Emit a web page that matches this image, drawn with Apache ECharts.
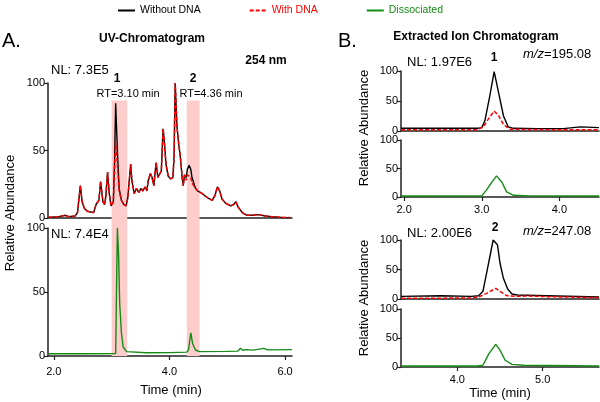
<!DOCTYPE html>
<html><head><meta charset="utf-8">
<script src="https://cdn.jsdelivr.net/npm/echarts@6/dist/echarts.min.js"></script>
<style>html,body{margin:0;padding:0;background:#fff}#c{width:600px;height:402px}</style>
</head><body><div id="c"></div>
<script>
const FONT = '"Liberation Sans", Arial, sans-serif';

// ---- Panel A: UV chromatogram (254 nm) ----
const uvTime = [1.91,2.09,2.20,2.26,2.37,2.41,2.46,2.49,2.53,2.58,2.69,2.73,2.75,2.78,2.81,2.85,2.88,2.90,2.93,2.96,2.99,3.03,3.05,3.07,3.10,3.13,3.17,3.21,3.25,3.28,3.30,3.33,3.35,3.39,3.43,3.47,3.51,3.54,3.58,3.61,3.63,3.67,3.70,3.73,3.77,3.80,3.83,3.86,3.89,3.91,3.94,3.98,4.02,4.06,4.08,4.10,4.13,4.16,4.19,4.22,4.24,4.26,4.29,4.31,4.34,4.37,4.39,4.42,4.45,4.49,4.57,4.66,4.74,4.79,4.83,4.87,4.91,4.97,5.06,5.11,5.15,5.19,5.26,5.34,5.43,5.54,5.66,5.77,5.94,6.09];
const uvWithout = [0.5,1,2,1,1.5,4,24,12,7,5,4,10,9,13,27,12,10,16,34,18,9,12,40,85,50,22,13,10,9,15,16,40,28,18,22,19,22,20,23,20,27,33,30,24,41,30,29,35,66,58,40,31,29,30,45,100,68,55,45,30,24,32,30,36,39,36,30,31,22,20,18,15,13,17,23,20,14,11,9,10,12,8,4,2,2,2.5,1.5,1,0.5,0.3];
const uvWith =    [0.5,1,2,1,1.5,4,24,12,7,5,4,10,9,13,27,12,10,16,34,18,9,12,35,56,40,20,13,10,9,15,16,40,28,18,22,19,22,20,23,20,27,33,30,24,41,30,29,35,66,58,40,31,29,30,45,100,68,55,45,30,24,32,28,32,33,30,26,27,22,20,18,15,13,17,23,20,14,11,9,10,12,8,4,2,2,2.5,1.5,1,0.5,0.3];
const uvDisTime = [1.91,2.50,3.07,3.10,3.12,3.14,3.17,3.20,3.26,3.60,4.00,4.30,4.33,4.37,4.40,4.45,4.52,5.00,5.18,5.23,5.27,5.34,5.45,5.63,5.70,6.12];
const uvDis =     [1.8,1.8,1.9,100,80,41,18,7,3.4,2.5,2.6,3,4.7,18,10,4.7,3.4,3.6,3.8,6,4.5,5,4.6,6,4.8,5];
const bandStart = [3.00, 4.30];
const bandEnd = [3.27, 4.52];
const bandTop = 87;       // in top-panel units
const bandBottom = -102;  // extends through lower panel
const aTicks = [2, 4, 6];

// ---- Panel B1: EIC m/z 195.08 ----
const e1BlackT = [1.96,2.46,2.96,3.00,3.04,3.10,3.16,3.21,3.28,3.34,3.41,3.71,4.05,4.27,4.51];
const e1Black =  [4.5,4.5,4.5,5.6,17,56,99,68,25,7,4.5,4,4,6.8,5.6];
const e1RedT =   [1.96,2.94,3.02,3.09,3.16,3.21,3.28,3.36,4.05,4.51];
const e1Red =    [2.2,2.2,6.8,21,33,27,11,3,2,2.3];
const e1GreenT = [1.96,3.00,3.06,3.13,3.19,3.26,3.32,3.41,3.62,4.51];
const e1Green =  [1.8,2,12,26,37,26,9,3,2,1.8];
const b1Ticks = [2, 3, 4];

// ---- Panel B2: EIC m/z 247.08 ----
const e2BlackT = [3.34,3.81,4.16,4.25,4.30,4.35,4.42,4.47,4.50,4.54,4.59,4.64,4.70,5.05,5.66];
const e2Black =  [4.5,5.6,4.5,5.6,13,49,100,92,61,35,17,8.4,6.7,5.6,3.4];
const e2RedT =   [3.34,4.16,4.25,4.35,4.45,4.50,4.58,4.70,4.85,5.05,5.66];
const e2Red =    [1.1,1.7,3.4,10,18,13,5.6,4.5,5,4,2.2];
const e2GreenT = [3.34,4.23,4.30,4.37,4.45,4.50,4.56,4.64,4.78,5.66];
const e2Green =  [1.7,1.7,3,23,39,29,11.6,4.6,3,1.7];
const b2Ticks = [4, 5];

const zip = (t, v) => t.map((x, i) => [x, v[i]]);
const AX = '#222';
const BLACK = '#000000', RED = '#ff0000', GREEN = '#148c14';

function xAx(grid, min, max, ticks, showLabels, margin) {
  return {
    type: 'value', gridIndex: grid, min: min, max: max,
    axisLine: { show: true, onZero: false, lineStyle: { color: AX, width: 1.5 } },
    splitLine: { show: false },
    axisTick: { show: showLabels, length: 4, customValues: ticks, lineStyle: { color: AX, width: 1.2 } },
    axisLabel: { show: showLabels, customValues: ticks, margin: margin, fontSize: 11, color: '#000', fontFamily: FONT,
      formatter: v => v.toFixed(1) }
  };
}
function yAx(grid) {
  return {
    type: 'value', gridIndex: grid, min: 0, max: 100, interval: 50,
    axisLine: { show: true, lineStyle: { color: AX, width: 1.5 } },
    splitLine: { show: false },
    axisTick: { show: true, length: 4, lineStyle: { color: AX, width: 1.2 } },
    axisLabel: { margin: 3, fontSize: 11, color: '#000', fontFamily: FONT }
  };
}
function line(name, xi, data, color, dashed) {
  return {
    name: name, type: 'line', xAxisIndex: xi, yAxisIndex: xi, data: data,
    symbol: 'none', smooth: false, silent: true, animation: false,
    lineStyle: { color: color, width: dashed ? 1.5 : 1.4, type: dashed ? [4, 2] : 'solid' },
    itemStyle: { color: color }, z: dashed ? 4 : 3
  };
}

const grids = [
  { left: 48, top: 83, width: 244, height: 273 },  // band
  { left: 48, top: 83, width: 244, height: 135 },  // A top
  { left: 48, top: 228, width: 244, height: 128 }, // A bottom
  { left: 401, top: 71, width: 198, height: 60 },  // B1 top
  { left: 401, top: 140, width: 198, height: 57 }, // B1 bottom
  { left: 401, top: 240, width: 198, height: 59 }, // B2 top
  { left: 401, top: 309, width: 198, height: 58 }  // B2 bottom
];

const xAxes = [
  { type: 'value', gridIndex: 0, min: 1.9, max: 6.12, show: false },
  xAx(1, 1.9, 6.12, aTicks, false, 10),
  xAx(2, 1.9, 6.12, aTicks, true, 10),
  xAx(3, 1.96, 4.51, b1Ticks, false, 7),
  xAx(4, 1.96, 4.51, b1Ticks, true, 7),
  xAx(5, 3.34, 5.66, b2Ticks, false, 7),
  xAx(6, 3.34, 5.66, b2Ticks, true, 7)
];
const yAxes = [
  { type: 'value', gridIndex: 0, min: bandBottom, max: 100, show: false },
  yAx(1), yAx(2), yAx(3), yAx(4), yAx(5), yAx(6)
];

const bandSeries = {
  type: 'line', xAxisIndex: 0, yAxisIndex: 0, data: [], silent: true, z: 1,
  markArea: {
    silent: true, itemStyle: { color: '#ffcccc' },
    data: bandStart.map((s, i) => [{ xAxis: s, yAxis: bandBottom }, { xAxis: bandEnd[i], yAxis: bandTop }])
  }
};

const series = [
  bandSeries,
  line('Without DNA', 1, zip(uvTime, uvWithout), BLACK, false),
  line('With DNA', 1, zip(uvTime, uvWith), RED, true),
  line('Dissociated', 2, zip(uvDisTime, uvDis), GREEN, false),
  line('Without DNA', 3, zip(e1BlackT, e1Black), BLACK, false),
  line('With DNA', 3, zip(e1RedT, e1Red), RED, true),
  line('Dissociated', 4, zip(e1GreenT, e1Green), GREEN, false),
  line('Without DNA', 5, zip(e2BlackT, e2Black), BLACK, false),
  line('With DNA', 5, zip(e2RedT, e2Red), RED, true),
  line('Dissociated', 6, zip(e2GreenT, e2Green), GREEN, false)
];

function txt(text, x, y, size, opts) {
  opts = opts || {};
  return {
    type: 'text', x: x, y: y, rotation: opts.rot || 0, silent: true, z: 10,
    style: {
      text: text, fill: opts.color || '#000', fontFamily: FONT, fontSize: size,
      fontWeight: opts.bold ? 'bold' : 'normal',
      align: opts.align || 'left', verticalAlign: 'middle',
      rich: { i: { fontStyle: 'italic', fontSize: size, fontFamily: FONT, fill: '#000' },
              n: { fontSize: size, fontFamily: FONT, fill: '#000' } }
    }
  };
}

const graphics = [
  txt('A.', 2, 41, 20),
  txt('UV-Chromatogram', 152, 39, 12, { bold: true, align: 'center' }),
  txt('B.', 338, 41, 20),
  txt('Extracted Ion Chromatogram', 476, 37, 12, { bold: true, align: 'center' }),
  txt('254 nm', 266, 61, 12, { bold: true, align: 'center' }),
  txt('NL: 7.3E5', 51, 70, 13),
  txt('1', 117, 79, 12, { bold: true, align: 'center' }),
  txt('RT=3.10 min', 128, 94, 11, { align: 'center' }),
  txt('2', 193, 79, 12, { bold: true, align: 'center' }),
  txt('RT=4.36 min', 211, 94, 11, { align: 'center' }),
  txt('NL: 7.4E4', 51, 234, 13),
  txt('Relative Abundance', 10, 213, 13, { rot: Math.PI / 2, align: 'center' }),
  txt('Time (min)', 171, 390, 13, { align: 'center' }),
  txt('NL: 1.97E6', 407, 62, 13),
  txt('1', 494, 58, 12, { bold: true, align: 'center' }),
  txt('{i|m/z}{n|=195.08}', 523, 54, 13),
  txt('Relative Abundance', 364, 128, 13, { rot: Math.PI / 2, align: 'center' }),
  txt('NL: 2.00E6', 407, 233, 13),
  txt('2', 495, 228, 12, { bold: true, align: 'center' }),
  txt('{i|m/z}{n|=247.08}', 523, 231, 13),
  txt('Relative Abundance', 364, 298, 13, { rot: Math.PI / 2, align: 'center' }),
  txt('Time (min)', 500, 393, 13, { align: 'center' })
];

const chart = echarts.init(document.getElementById('c'), null, { renderer: 'canvas' });
chart.setOption({
  animation: false,
  backgroundColor: '#fff',
  legend: {
    left: 112, top: 0, itemWidth: 17, itemHeight: 10, itemGap: 48, selectedMode: false,
    itemStyle: { opacity: 0 },
    textStyle: { fontSize: 10.5, fontFamily: FONT },
    data: [
      { name: 'Without DNA', textStyle: { color: BLACK } },
      { name: 'With DNA', textStyle: { color: RED } },
      { name: 'Dissociated', textStyle: { color: GREEN } }
    ]
  },
  grid: grids,
  xAxis: xAxes,
  yAxis: yAxes,
  series: series,
  graphic: graphics
});
</script>
</body></html>
